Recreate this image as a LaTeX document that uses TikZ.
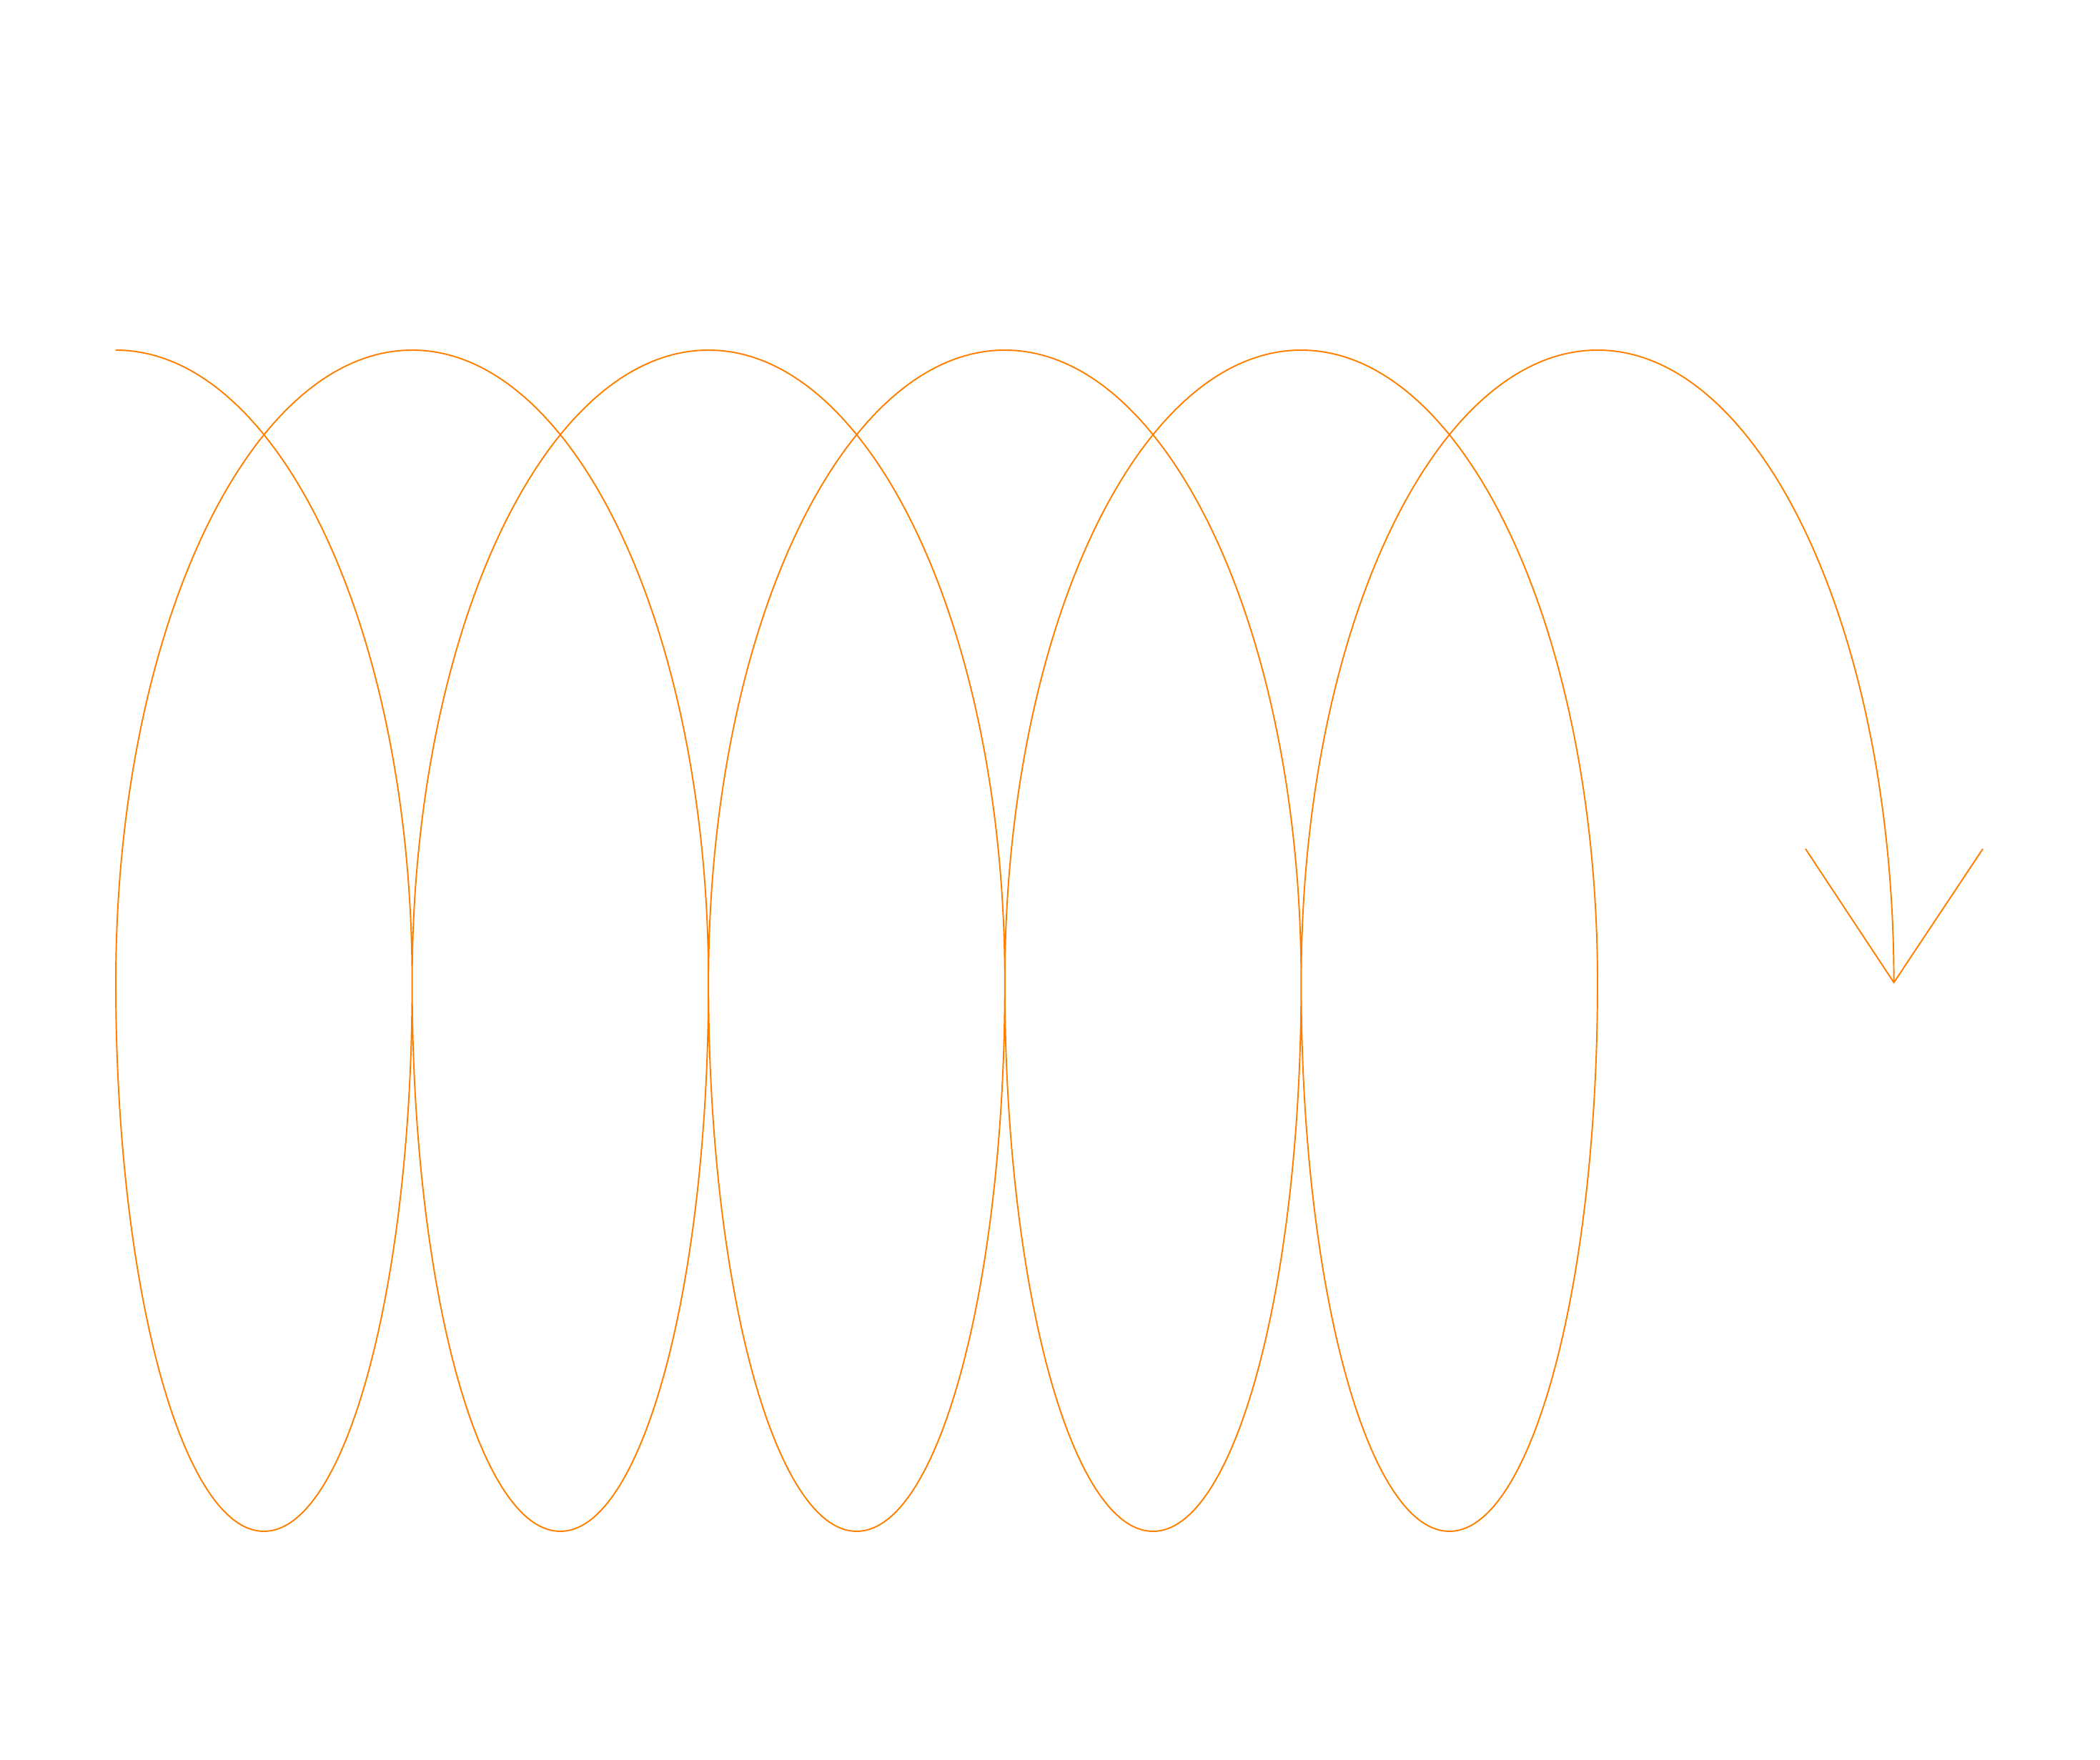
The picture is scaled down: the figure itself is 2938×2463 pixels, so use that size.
\documentclass[tikz,border=0pt]{standalone}
\definecolor{coilorange}{RGB}{255,128,0}
\begin{document}
\begin{tikzpicture}[x=0.01cm,y=0.01cm,
  coil/.style={draw=coilorange,line width=0.55pt},
  upper/.style={x radius=414.6,y radius=885},
  lower/.style={x radius=207.3,y radius=768}]
\useasboundingbox (0,0) rectangle (2938,2463);
\coordinate (start) at (162,1973);
\draw[coil] (start)
  arc[start angle=90,end angle=0,upper]
  arc[start angle=0,end angle=-180,lower]
  arc[start angle=180,end angle=0,upper]
  arc[start angle=0,end angle=-180,lower]
  arc[start angle=180,end angle=0,upper]
  arc[start angle=0,end angle=-180,lower]
  arc[start angle=180,end angle=0,upper]
  arc[start angle=0,end angle=-180,lower]
  arc[start angle=180,end angle=0,upper]
  arc[start angle=0,end angle=-180,lower]
  arc[start angle=180,end angle=0,upper] coordinate (tip);
\coordinate (wingL) at (2526,1275);
\coordinate (wingR) at (2774,1275);
\draw[coil] (wingL) -- (tip) -- (wingR);
\end{tikzpicture}
\end{document}
